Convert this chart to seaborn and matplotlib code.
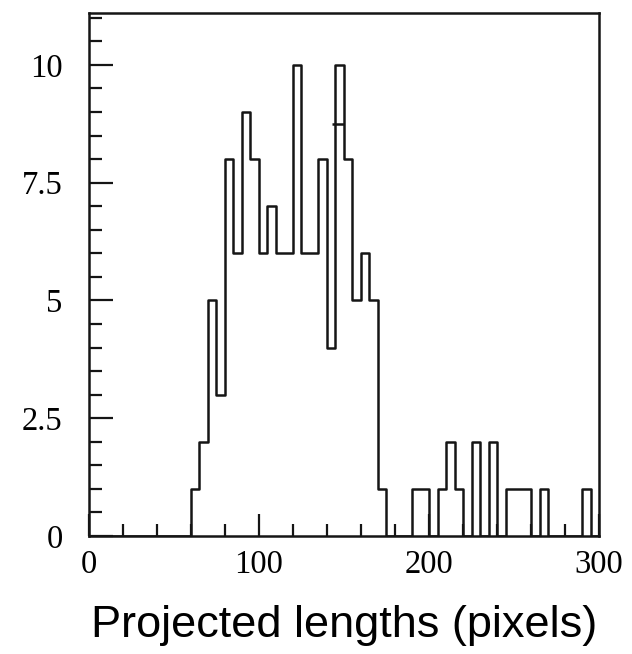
import numpy as np
import pandas as pd
import matplotlib
matplotlib.use("Agg")
import matplotlib.pyplot as plt
from matplotlib.ticker import MultipleLocator, FixedLocator, FixedFormatter
import seaborn as sns

# Histogram of projected lengths: 5-pixel bins from 0 to 300
bin_edges = list(range(0, 305, 5))
counts = [
    0, 0, 0, 0, 0, 0, 0, 0, 0, 0, 0, 0,      # 0-60
    1, 2, 5, 3, 8, 6, 9, 8, 6, 7, 6, 6,      # 60-120
    10, 6, 6, 8, 4, 10, 8, 5, 6, 5, 1, 0,    # 120-180
    0, 0, 1, 1, 0, 1, 2, 1, 0, 2, 0, 2,      # 180-240
    0, 1, 1, 1, 0, 1, 0, 0, 0, 0, 1, 0,      # 240-300
]
# Short horizontal marker drawn across the 145-150 bin
marker_level = 8.75
marker_span = [143, 150]

y_ticks = [0, 2.5, 5, 7.5, 10]
y_tick_labels = ["0", "2.5", "5", "7.5", "10"]
x_ticks = [0, 100, 200, 300]
x_tick_labels = ["0", "100", "200", "300"]
x_label = "Projected lengths (pixels)"

df = pd.DataFrame({
    "length": [(a + b) / 2 for a, b in zip(bin_edges[:-1], bin_edges[1:])],
    "count": counts,
})

sns.set_style("ticks")
fig = plt.figure(figsize=(6.32, 6.54), dpi=100)
ax = fig.add_axes([0.1408, 0.1804, 0.807, 0.7997])

ink = "#151515"
sns.histplot(data=df, x="length", weights="count", bins=bin_edges,
             element="step", fill=False, color=ink, linewidth=1.8, ax=ax)
ax.hlines(marker_level, marker_span[0], marker_span[1], color=ink, linewidth=1.8)

ax.set_xlim(0, 300)
ax.set_ylim(0, 11.1)

for side in ["left", "bottom", "top", "right"]:
    ax.spines[side].set_visible(True)
    ax.spines[side].set_linewidth(1.8)
    ax.spines[side].set_color(ink)

ax.yaxis.set_major_locator(FixedLocator(y_ticks))
ax.yaxis.set_major_formatter(FixedFormatter(y_tick_labels))
ax.yaxis.set_minor_locator(MultipleLocator(0.5))
ax.xaxis.set_major_locator(FixedLocator(x_ticks))
ax.xaxis.set_major_formatter(FixedFormatter(x_tick_labels))
ax.xaxis.set_minor_locator(MultipleLocator(20))

ax.tick_params(axis="y", which="major", direction="in", length=17, width=1.6,
               pad=19, color=ink)
ax.tick_params(axis="y", which="minor", direction="in", length=9, width=1.6,
               color=ink)
ax.tick_params(axis="x", which="major", direction="in", length=16, width=1.6,
               pad=10, color=ink)
ax.tick_params(axis="x", which="minor", direction="in", length=8.5, width=1.6,
               color=ink)
ax.tick_params(top=False, right=False, which="both")

for lab in ax.get_xticklabels() + ax.get_yticklabels():
    lab.set_fontfamily("Liberation Serif")
    lab.set_fontsize(23.5)
    lab.set_color("black")

ax.set_ylabel("")
ax.set_xlabel(x_label, fontsize=32.5, family="Liberation Sans", color="black",
              labelpad=18)

fig.savefig("out.png", dpi=100)
